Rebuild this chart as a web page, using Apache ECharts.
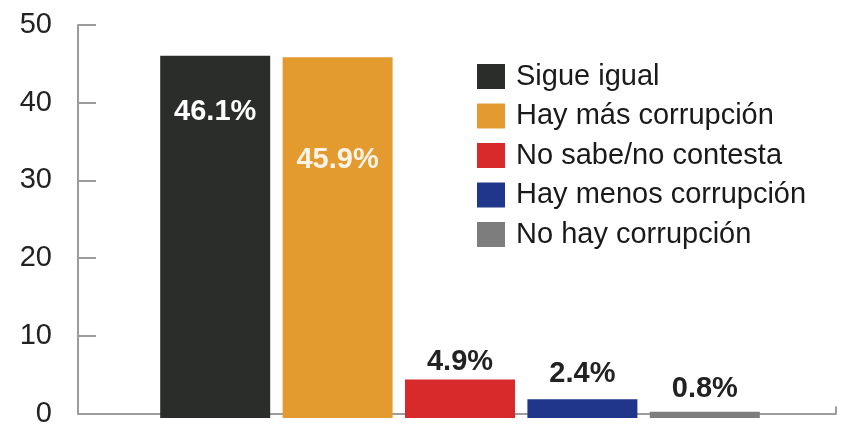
<!DOCTYPE html>
<html>
<head>
<meta charset="utf-8">
<script src="https://cdn.jsdelivr.net/npm/echarts@6/dist/echarts.min.js"></script>
<style>
html,body{margin:0;padding:0;background:#fff;}
#chart{width:863px;height:428px;}
</style>
</head>
<body>
<div id="chart"></div>
<script>
var categories = ['Sigue igual', 'Hay más corrupción', 'No sabe/no contesta', 'Hay menos corrupción', 'No hay corrupción'];
var values = [46.1, 45.9, 4.9, 2.4, 0.8];
var colors = ['#2b2d2a', '#e39a2f', '#d82a2b', '#20368a', '#7d7d7d'];
var yTicks = [0, 10, 20, 30, 40, 50];

var FONT = '"Liberation Sans", Arial, Helvetica, sans-serif';
var axisColor = '#9c9c9c';

var labelCfg = [
  {position: 'insideTop', distance: 42, color: '#ffffff'},
  {position: 'insideTop', distance: 88, color: '#fbf3e6'},
  {position: 'top', distance: 3, color: '#222222'},
  {position: 'top', distance: 11, color: '#222222'},
  {position: 'top', distance: 8, color: '#222222'}
];

var series = categories.map(function (name, i) {
  var data = categories.map(function (c, j) { return j === i ? values[i] : '-'; });
  return {
    name: name,
    type: 'bar',
    stack: 'all',
    xAxisIndex: 1,
    yAxisIndex: 1,
    barWidth: 110,
    itemStyle: {color: colors[i]},
    data: data,
    label: {
      show: true,
      position: labelCfg[i].position,
      distance: labelCfg[i].distance,
      color: labelCfg[i].color,
      fontFamily: FONT,
      fontWeight: 'bold',
      fontSize: 29,
      formatter: function (p) { return p.value.toFixed(1) + '%'; }
    }
  };
});

var chart = echarts.init(document.getElementById('chart'), null, {renderer: 'canvas'});
chart.setOption({
  animation: false,
  backgroundColor: '#ffffff',
  legend: {
    orient: 'vertical',
    left: 472,
    top: 57,
    itemWidth: 28,
    itemHeight: 25,
    itemGap: 10.5,
    icon: 'rect',
    data: categories,
    textStyle: {fontFamily: FONT, fontSize: 29, color: '#1a1a1a', padding: [0, 0, 0, 6]}
  },
  grid: [
    {left: 78, right: 27, top: 25, bottom: 10, containLabel: false},
    {left: 154, right: 97, top: 25, bottom: 10, containLabel: false}
  ],
  xAxis: [
    {
      gridIndex: 0, type: 'category', data: [''], boundaryGap: true,
      axisLine: {lineStyle: {color: axisColor, width: 2}},
      axisTick: {show: true, inside: true, length: 7, interval: 0, lineStyle: {color: axisColor, width: 2}},
      axisLabel: {show: false}
    },
    {
      gridIndex: 1, type: 'category', data: categories, show: false
    }
  ],
  yAxis: [
    {
      gridIndex: 0, type: 'value', min: 0, max: 50, interval: 10,
      axisLine: {show: true, lineStyle: {color: axisColor, width: 2}},
      axisTick: {show: true, inside: true, length: 18, lineStyle: {color: axisColor, width: 2}},
      splitLine: {show: false},
      axisLabel: {
        margin: 26, fontFamily: FONT, fontSize: 29, color: '#222222',
        formatter: function (v) { return yTicks.indexOf(v) >= 0 ? String(v) : ''; }
      }
    },
    {
      gridIndex: 1, type: 'value', min: 0, max: 50, show: false
    }
  ],
  series: series
});
</script>
</body>
</html>
